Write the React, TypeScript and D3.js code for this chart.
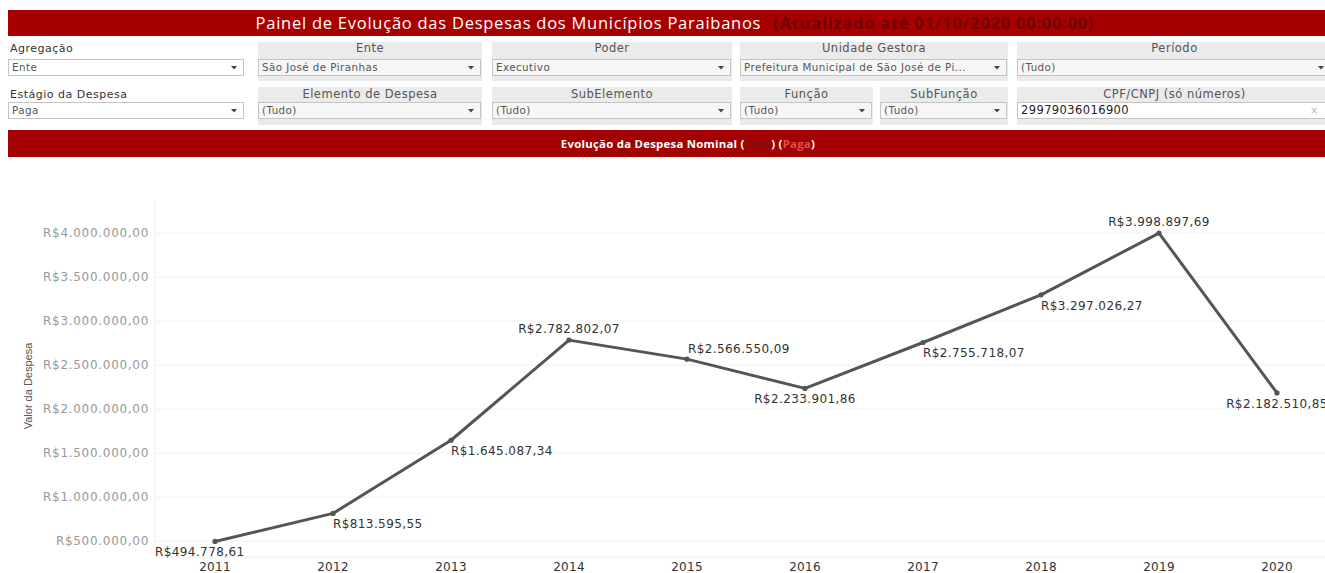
import React from "react";
import * as d3 from "d3";

// ---------- data ----------
const years = ["2011", "2012", "2013", "2014", "2015", "2016", "2017", "2018", "2019", "2020"];
const values = [
  494778.61, 813595.55, 1645087.34, 2782802.07, 2566550.09,
  2233901.86, 2755718.07, 3297026.27, 3998897.69, 2182510.85,
];
const yTicks = [500000, 1000000, 1500000, 2000000, 2500000, 3000000, 3500000, 4000000];

const titleMain = "Painel de Evolução das Despesas dos Municípios Paraibanos";
const titleUpdate = "(Atualizado até 01/10/2020 00:00:00)";
const yAxisTitle = "Valor da Despesa";

const filterLabelsRow1 = ["Agregação", "Ente", "Poder", "Unidade Gestora", "Período"];
const filterValuesRow1 = ["Ente", "São José de Piranhas", "Executivo", "Prefeitura Municipal de São José de Pi...", "(Tudo)"];
const filterLabelsRow2 = ["Estágio da Despesa", "Elemento de Despesa", "SubElemento", "Função", "SubFunção", "CPF/CNPJ (só números)"];
const filterValuesRow2 = ["Paga", "(Tudo)", "(Tudo)", "(Tudo)", "(Tudo)", "29979036016900"];

// ---------- layout ----------
const W = 1325;
const H = 573;
const row1X: [number, number][] = [[8, 245], [258, 482], [492, 732], [740, 1008], [1017, 1332]];
const row2X: [number, number][] = [[8, 245], [258, 482], [492, 732], [740, 873], [880, 1008], [1017, 1332]];

const RED = "#a80000";
const LABEL_FONT = "'DejaVu Sans', Verdana, sans-serif";
const UI_FONT = "'Open Sans', 'DejaVu Sans', sans-serif";

const locale = d3.formatLocale({ decimal: ",", thousands: ".", grouping: [3], currency: ["R$", ""] });
const fmt = locale.format("$,.2f");

let ctx: CanvasRenderingContext2D | null = null;
function textWidth(t: string, font: string, spacing: number) {
  if (!ctx) {
    const c = document.createElement("canvas");
    ctx = c.getContext("2d");
  }
  if (!ctx) return t.length * 7.3;
  ctx.font = font;
  return ctx.measureText(t).width + spacing * t.length;
}

function Arrow({ x, y }: { x: number; y: number }) {
  return <path d={`M${x - 3},${y - 1.5} L${x + 3},${y - 1.5} L${x},${y + 2} Z`} fill="#444" />;
}

function FilterRow({
  labels, vals, xs, gy0, gy1, labelY, boxY, lastInput,
}: {
  labels: string[]; vals: string[]; xs: [number, number][]; gy0: number; gy1: number;
  labelY: number; boxY: number; lastInput?: boolean;
}) {
  const boxH = 16;
  return (
    <g>
      {labels.map((lab, i) => {
        const [x0, x1] = xs[i];
        const plain = i === 0;
        const isInput = lastInput && i === labels.length - 1;
        return (
          <g key={lab}>
            {!plain && <rect x={x0} y={gy0} width={x1 - x0} height={gy1 - gy0} fill="#ebebeb" />}
            <text
              x={plain ? x0 + 2 : (x0 + x1) / 2}
              y={labelY}
              textAnchor={plain ? "start" : "middle"}
              fontFamily={LABEL_FONT}
              fontSize={plain ? 11 : 11.5}
              letterSpacing={0.5}
              fill={plain ? "#333" : "#555"}
            >
              {lab}
            </text>
            <rect
              x={x0 + 0.5}
              y={boxY + 0.5}
              width={x1 - x0 - 2}
              height={boxH}
              fill={plain || isInput ? "#ffffff" : "#f6f6f6"}
              stroke="#c4c4c4"
            />
            <text
              x={x0 + 4}
              y={boxY + 12}
              fontFamily={LABEL_FONT}
              fontSize={isInput ? 11.5 : 10.3}
              letterSpacing={isInput ? 0.4 : 0.45}
              fill={isInput ? "#222" : "#555"}
            >
              {vals[i]}
            </text>
            {isInput ? (
              <text x={x1 - 22} y={boxY + 12} fontFamily={LABEL_FONT} fontSize={10} fill="#bbb">×</text>
            ) : (
              <Arrow x={Math.min(x1 - 11, W - 4)} y={boxY + 8.5} />
            )}
          </g>
        );
      })}
    </g>
  );
}

export default function App() {
  const plotLeft = 155;
  const plotBottom = 557;
  const plotTop = 200;

  const x = d3.scalePoint<string>().domain(years).range([156, 1336]).padding(0.5);
  const y = d3.scaleLinear().domain([500000, 4000000]).range([541, 233]);

  const line = d3
    .line<number>()
    .x((_, i) => x(years[i]) as number)
    .y((d) => y(d));

  const labelFontSize = 12;
  const labelSpacing = 0.4;
  const labelFont = `${labelFontSize}px 'DejaVu Sans'`;

  const labels = values.map((v, i) => {
    const prev = i > 0 ? values[i - 1] : undefined;
    const next = i < values.length - 1 ? values[i + 1] : undefined;
    const gtPrev = prev === undefined ? undefined : v > prev;
    const gtNext = next === undefined ? undefined : v > next;
    let kind: "peak" | "valley" | "rising" | "falling";
    if ((gtPrev ?? gtNext) && (gtNext ?? gtPrev)) kind = "peak";
    else if (!(gtPrev ?? gtNext) && !(gtNext ?? gtPrev)) kind = "valley";
    else if (gtPrev) kind = "rising";
    else kind = "falling";
    const px = x(years[i]) as number;
    const py = y(v);
    const t = fmt(v);
    const w = textWidth(t, labelFont, labelSpacing);
    let lx = px;
    let ly = py;
    if (kind === "peak") {
      lx = Math.max(plotLeft, px - w / 2);
      ly = py - 7;
    } else if (kind === "valley") {
      lx = i === 0 ? plotLeft : Math.max(plotLeft, px - w / 2);
      ly = py + 15;
    } else if (kind === "rising") {
      lx = px;
      ly = py + 15;
    } else {
      lx = px + 1;
      ly = py - 6;
    }
    return { t, lx, ly, key: years[i] };
  });

  return (
    <div style={{ position: "absolute", left: 0, top: 0 }}>
      <svg width={W} height={H} style={{ display: "block", background: "#fff" }}>
        {/* title bar */}
        <rect x={8} y={10} width={W - 8} height={26} fill={RED} />
        <text x={675} y={28.5} textAnchor="middle" fontFamily={UI_FONT} fontSize={16.5} letterSpacing={0.75}>
          <tspan fill="#ffffff">{titleMain}</tspan>
          <tspan fill="#6e0000" fontWeight="bold" dx={12}>{titleUpdate}</tspan>
        </text>

        {/* filters */}
        <FilterRow labels={filterLabelsRow1} vals={filterValuesRow1} xs={row1X} gy0={42} gy1={81} labelY={52} boxY={59} />
        <FilterRow labels={filterLabelsRow2} vals={filterValuesRow2} xs={row2X} gy0={87} gy1={125} labelY={98} boxY={102} lastInput />

        {/* subtitle bar */}
        <rect x={8} y={130} width={W - 8} height={27} fill="#a30000" />
        <text x={688} y={147.5} textAnchor="middle" fontFamily={UI_FONT} fontSize={11.4} letterSpacing={0.25} fontWeight="bold" fill="#ffffff">
          Evolução da Despesa Nominal (<tspan fill="#7a1515">Ente</tspan>) (<tspan fill="#e0504a">Paga</tspan>)
        </text>

        {/* gridlines */}
        {yTicks.map((t) => (
          <line key={t} x1={plotLeft} x2={W} y1={y(t)} y2={y(t)} stroke="#f0f0f0" strokeWidth={1} />
        ))}
        <line x1={plotLeft} x2={plotLeft} y1={plotTop} y2={plotBottom} stroke="#f0f0f0" />
        <line x1={plotLeft} x2={W} y1={plotBottom} y2={plotBottom} stroke="#ececec" />

        {/* y tick labels */}
        {yTicks.map((t) => (
          <text key={t} x={149} y={y(t) + 4} textAnchor="end" fontFamily={LABEL_FONT} fontSize={12} letterSpacing={0.7} fill="#999999">
            {fmt(t)}
          </text>
        ))}
        <text
          transform={`translate(32, 386) rotate(-90)`}
          textAnchor="middle"
          fontFamily="'Liberation Sans Narrow', 'Arial Narrow', 'Liberation Sans', sans-serif"
          fontSize={11}
          fill="#555"
        >
          {yAxisTitle}
        </text>

        {/* x tick labels */}
        {years.map((yr) => (
          <text key={yr} x={x(yr) as number} y={570.5} textAnchor="middle" fontFamily={LABEL_FONT} fontSize={12} letterSpacing={0.3} fill="#333">
            {yr}
          </text>
        ))}

        {/* line */}
        <path d={line(values) || ""} fill="none" stroke="#555555" strokeWidth={3} strokeLinejoin="round" />
        {values.map((v, i) => (
          <circle key={years[i]} cx={x(years[i]) as number} cy={y(v)} r={2.6} fill="#555555" />
        ))}

        {/* data labels */}
        {labels.map((l) => (
          <text key={l.key} x={l.lx} y={l.ly} fontFamily={LABEL_FONT} fontSize={labelFontSize} letterSpacing={labelSpacing} fill="#333">
            {l.t}
          </text>
        ))}
      </svg>
    </div>
  );
}
